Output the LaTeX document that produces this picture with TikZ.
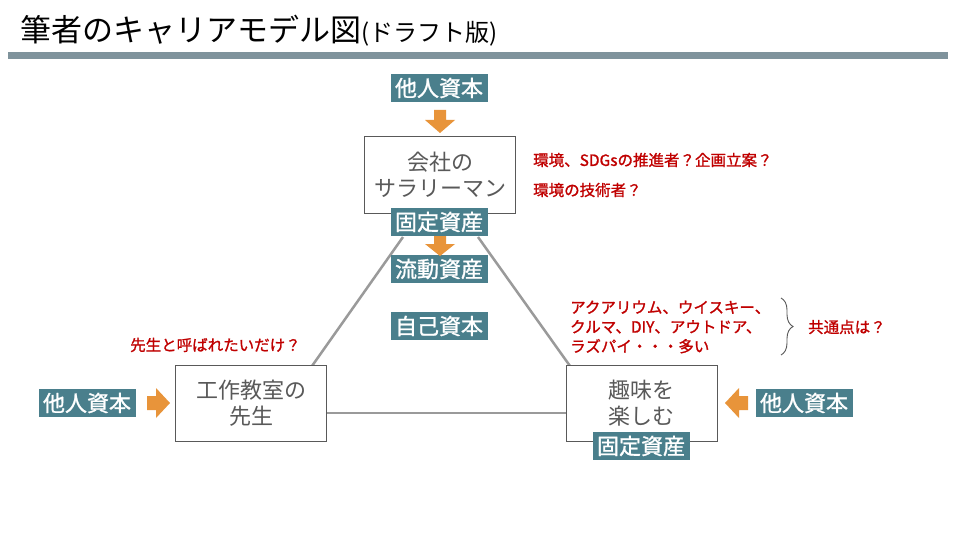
\documentclass[tikz,border=0pt]{standalone}
\usepackage{fontspec}
\setmainfont{Noto Sans CJK JP}
\newfontfamily\cjk{Noto Sans CJK JP}
\newfontfamily\cjkheavy[FakeBold=1.2]{Noto Sans CJK JP}
\usetikzlibrary{decorations.pathreplacing}
\definecolor{tealc}{HTML}{4A7F8C}
\definecolor{barc}{HTML}{7F939C}
\definecolor{orangec}{HTML}{E8943A}
\definecolor{boxc}{HTML}{595959}
\definecolor{redc}{HTML}{C00000}
\definecolor{linec}{HTML}{9A9A9A}
\tikzset{
  caplabel/.style={fill=tealc, text=white, font=\cjkheavy\fontsize{22}{24}\selectfont,
    inner xsep=4.5pt, inner ysep=0pt, minimum height=28pt},
  rolebox/.style={draw=boxc, line width=1pt, fill=white, text=boxc, align=center,
    font=\cjk\fontsize{22}{26.5}\selectfont, minimum width=151pt, minimum height=76pt},
  note/.style={text=redc, font=\cjkheavy\fontsize{15.5}{19.5}\selectfont, inner sep=0pt, anchor=west, align=left},
  triline/.style={draw=linec, line width=2.5pt},
  blockarrow/.style={fill=orangec},
}
\begin{document}
\begin{tikzpicture}[x=1pt,y=-1pt]
\useasboundingbox[fill=white] (0,0) rectangle (960,540);
% title
\node[anchor=base west, inner sep=0pt, text=black] (title) at (20,42)
  {\fontsize{31}{33}\selectfont 筆者のキャリアモデル図\fontsize{24}{26}\selectfont(ドラフト版)};
\fill[barc] (8,52) rectangle (948,59);

% triangle line coordinates
\coordinate (tl) at (403,237);
\coordinate (tr) at (478,237);
\coordinate (bl) at (312,366);
\coordinate (br) at (570,366);
\coordinate (ml) at (327,413);
\coordinate (mr) at (566,413);
\draw[triline] (tl) -- (bl);
\draw[triline] (tr) -- (br);
\draw[triline] (ml) -- (mr);

% boxes
\node[rolebox] (salary) at (440,175) {会社の\\サラリーマン};
\node[rolebox] (teacher) at (251,403) {工作教室の\\先生};
\node[rolebox] (hobby) at (641.5,403) {趣味を\\楽しむ};

% labels
\node[caplabel] (otop) at (439,88) {他人資本};
\node[caplabel] (fixtop) at (439,222) {固定資産};
\node[caplabel] (liquid) at (439,269) {流動資産};
\node[caplabel] (own) at (439,326) {自己資本};
\node[caplabel] (oleft) at (87,403) {他人資本};
\node[caplabel] (oright) at (804,403) {他人資本};
\node[caplabel] (fixright) at (641,446) {固定資産};

% orange block arrows
\fill[blockarrow] (434,110) -- (446,110) -- (446,120) -- (455,120) -- (440,133) -- (425,120) -- (434,120) -- cycle;
\fill[blockarrow] (434,236) -- (446,236) -- (446,244) -- (455,244) -- (440,256) -- (425,244) -- (434,244) -- cycle;
\fill[blockarrow] (147,396) -- (156,396) -- (156,388) -- (170,403) -- (156,418) -- (156,410) -- (147,410) -- cycle;
\fill[blockarrow] (748,396) -- (739,396) -- (739,388) -- (725,403) -- (739,418) -- (739,410) -- (748,410) -- cycle;

% red notes
\node[note] (n1) at (533,160) {環境、SDGsの推進者？企画立案？};
\node[note] (n2) at (533,190) {環境の技術者？};
\node[note] (n3) at (130,345) {先生と呼ばれたいだけ？};
\node[note] (n4) at (570,327) {アクアリウム、ウイスキー、\\クルマ、DIY、アウトドア、\\ラズパイ・・・多い};
\node[note] (n5) at (808,327) {共通点は？};

% brace
\coordinate (bt) at (781,298);
\coordinate (bb) at (781,355);
\draw[boxc, line width=0.9pt, decorate, decoration={brace, amplitude=12pt}] (bt) -- (bb);
\end{tikzpicture}
\end{document}
